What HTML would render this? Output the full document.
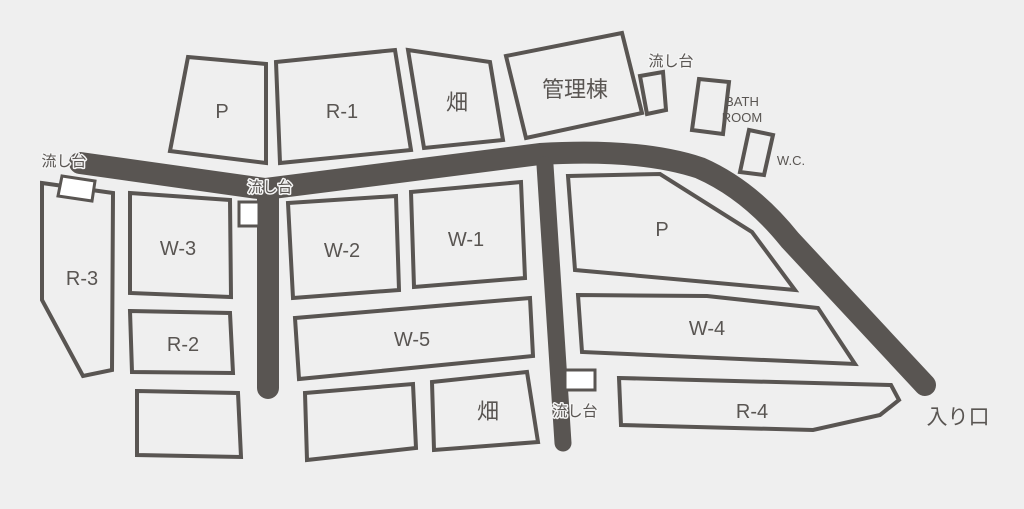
<!DOCTYPE html>
<html><head><meta charset="utf-8"><style>
html,body{margin:0;padding:0;background:#efefef;}
svg{display:block}
text{font-family:"Liberation Sans","Noto Sans CJK JP",sans-serif;fill:#595552;text-anchor:middle}
.lb text{paint-order:stroke;stroke:#f4f4f4;stroke-width:3px;stroke-linejoin:round}
</style></head><body>
<svg width="1024" height="509" viewBox="0 0 1024 509" xmlns="http://www.w3.org/2000/svg">
<rect width="1024" height="509" fill="#efefef"/>
<g fill="none" stroke="#595552" stroke-linecap="round" stroke-linejoin="round">
<path d="M80,163 L265,189 L540,154 Q640,148 700,168 Q750,190 790,240 L925,385" stroke-width="22"/>
<path d="M268,195 L268,388" stroke-width="22"/>
<path d="M545,165 L563,443" stroke-width="17"/>
</g>
<g fill="none" stroke="#595552" stroke-width="4" stroke-linejoin="miter">
<polygon points="188,57 266,64 266,163 170,151"/>
<polygon points="276,62 395,50 411,150 280,163"/>
<polygon points="408,50 490,62 503,140 424,148"/>
<polygon points="506,56 622,33 642,113 526,138"/>
<polygon points="640,76 663,72 666,110 647,114"/>
<polygon points="699,79 729,82 723,134 692,130"/>
<polygon points="749,130 773,135 764,175 740,172"/>
<polygon points="42,183 113,193 112,370 83,376 42,300"/>
<polygon points="130,193 230,200 231,297 130,293"/>
<polygon points="130,311 230,313 233,373 132,372"/>
<polygon points="137,391 238,393 241,457 137,455"/>
<polygon points="288,203 396,196 399,290 293,298"/>
<polygon points="411,192 521,182 525,278 414,287"/>
<polygon points="295,318 530,298 533,356 299,379"/>
<polygon points="305,393 413,384 416,448 307,460"/>
<polygon points="432,382 527,372 538,442 434,450"/>
<polygon points="568,176 660,174 752,232 795,290 575,270"/>
<polygon points="578,295 707,296 818,308 855,364 582,352"/>
<polygon points="619,378 891,385 899,400 880,415 813,430 621,425"/>
</g>
<g fill="#fff" stroke="#595552" stroke-width="3">
<polygon points="62,176 95,181 92,201 58,196"/>
<rect x="239" y="202" width="20" height="24"/>
<rect x="565" y="370" width="30" height="20"/>
</g>
<g font-size="20">
<text x="222" y="118">P</text>
<text x="342" y="118">R-1</text>
<text x="457" y="110" font-size="22">畑</text>
<text x="575" y="97" font-size="22">管理棟</text>
<text x="178" y="255">W-3</text>
<text x="82" y="285">R-3</text>
<text x="183" y="351">R-2</text>
<text x="342" y="257">W-2</text>
<text x="466" y="246">W-1</text>
<text x="412" y="346">W-5</text>
<text x="488" y="419" font-size="22">畑</text>
<text x="662" y="236">P</text>
<text x="707" y="335">W-4</text>
<text x="752" y="418">R-4</text>
</g>
<g font-size="15" class="lb">
<text x="64" y="166">流し台</text>
<text x="270" y="192">流し台</text>
<text x="671" y="66">流し台</text>
<text x="575" y="416">流し台</text>
</g>
<g font-size="13">
<text x="742" y="106">BATH</text>
<text x="742" y="122">ROOM</text>
<text x="791" y="165">W.C.</text>
</g>
<text x="958" y="424" font-size="21">入り口</text>
</svg>
</body></html>
